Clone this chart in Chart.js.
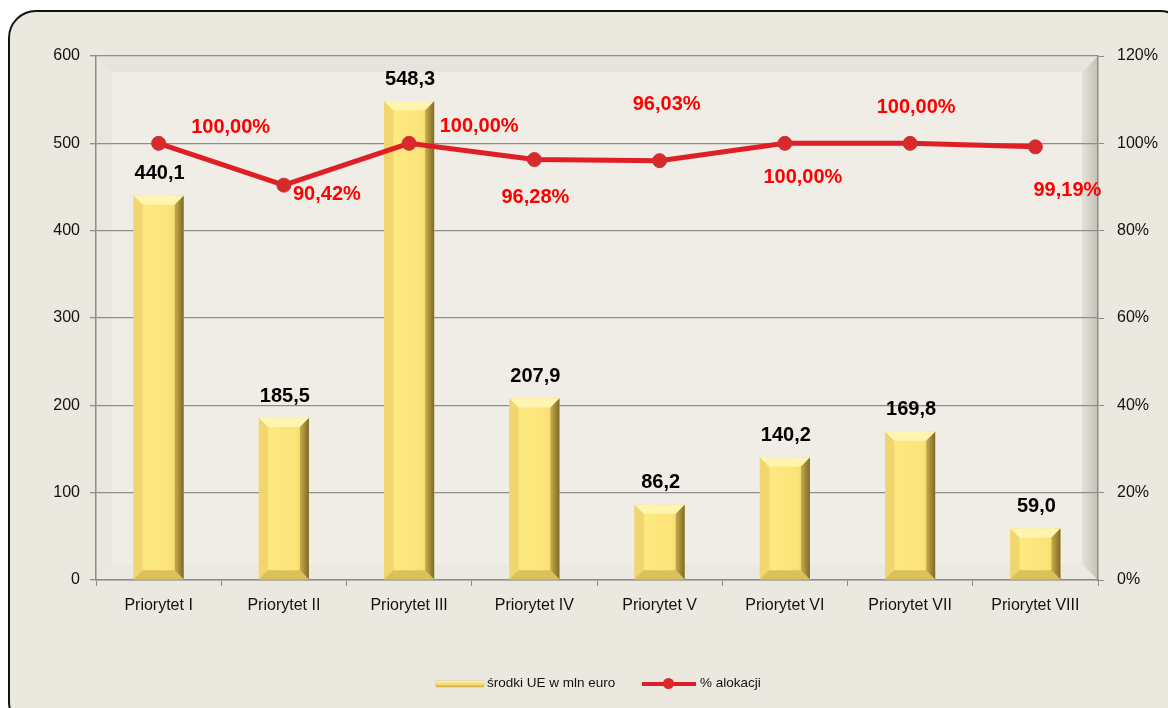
<!DOCTYPE html>
<html>
<head>
<meta charset="utf-8">
<script src="https://cdn.jsdelivr.net/npm/chart.js@4.4.1/dist/chart.umd.min.js"></script>
<style>
  html, body { margin: 0; padding: 0; background: #fff; }
  #wrap { position: relative; width: 1168px; height: 708px; overflow: hidden; }
  #frame {
    position: absolute; left: 8px; top: 10px; width: 1180px; height: 720px;
    background: #ebe8df; border: 2px solid #111; border-radius: 28px; box-sizing: border-box;
  }
  #chart { position: absolute; left: 0; top: 0; }
  .legend { position: absolute; top: 675px; font: 13.5px "Liberation Sans", Arial, sans-serif; color: #111; }
  .sw-bar { position: absolute; top: 6px; width: 48px; height: 6px;
    background: linear-gradient(#fff4a8, #f3d86a 60%, #c9a94a); box-shadow: 0 0 2px #c8b060; }
  .sw-line { position: absolute; top: 7px; width: 54px; height: 4px; background: #de1f26; }
  .sw-dot { position: absolute; top: 3px; left: 21px; width: 11px; height: 11px; border-radius: 50%; background: #d92a2a; }
</style>
</head>
<body>
<div id="wrap">
  <div id="frame"></div>
  <canvas id="chart" width="1168" height="708"></canvas>
  <div class="legend" style="left:436px;"><span class="sw-bar" style="left:0"></span><span style="position:absolute;left:51px;white-space:nowrap;">środki UE w mln euro</span></div>
  <div class="legend" style="left:642px;"><span class="sw-line" style="left:0"></span><span class="sw-dot"></span><span style="position:absolute;left:58px;white-space:nowrap;">% alokacji</span></div>
</div>
<script>
// Data
const categories = ['Priorytet I', 'Priorytet II', 'Priorytet III', 'Priorytet IV', 'Priorytet V', 'Priorytet VI', 'Priorytet VII', 'Priorytet VIII'];
const funds = [440.1, 185.5, 548.3, 207.9, 86.2, 140.2, 169.8, 59.0];
const allocation = [100.00, 90.42, 100.00, 96.28, 96.03, 100.00, 100.00, 99.19];

const fmt = (v, d) => v.toFixed(d).replace('.', ',');

// --- 3D-ish wall behind the plot ---
const wallPlugin = {
  id: 'wall',
  beforeDraw(chart) {
    const { ctx, chartArea: a } = chart;
    const d = 16;
    ctx.save();
    // back panel
    ctx.fillStyle = '#efede6';
    ctx.fillRect(a.left, a.top, a.right - a.left, a.bottom - a.top);
    // left wall
    ctx.fillStyle = '#e9e7df';
    ctx.beginPath();
    ctx.moveTo(a.left, a.top); ctx.lineTo(a.left + d, a.top + d);
    ctx.lineTo(a.left + d, a.bottom - d); ctx.lineTo(a.left, a.bottom); ctx.closePath(); ctx.fill();
    // ceiling
    ctx.fillStyle = '#e6e4dc';
    ctx.beginPath();
    ctx.moveTo(a.left, a.top); ctx.lineTo(a.right, a.top);
    ctx.lineTo(a.right - d, a.top + d); ctx.lineTo(a.left + d, a.top + d); ctx.closePath(); ctx.fill();
    // floor
    ctx.fillStyle = '#ebe9e1';
    ctx.beginPath();
    ctx.moveTo(a.left, a.bottom); ctx.lineTo(a.right, a.bottom);
    ctx.lineTo(a.right - d, a.bottom - d); ctx.lineTo(a.left + d, a.bottom - d); ctx.closePath(); ctx.fill();
    // right wall (shaded)
    const g = ctx.createLinearGradient(a.right - d, 0, a.right, 0);
    g.addColorStop(0, '#e4e1d9');
    g.addColorStop(1, '#c4c1b7');
    ctx.fillStyle = g;
    ctx.beginPath();
    ctx.moveTo(a.right, a.top); ctx.lineTo(a.right - d, a.top + d);
    ctx.lineTo(a.right - d, a.bottom - d); ctx.lineTo(a.right, a.bottom); ctx.closePath(); ctx.fill();
    ctx.restore();
  }
};

// --- bevelled gold bars ---
const bevelPlugin = {
  id: 'bevel',
  afterDatasetDraw(chart, args) {
    if (args.index !== 0) return;
    const { ctx } = chart;
    const meta = chart.getDatasetMeta(0);
    ctx.save();
    meta.data.forEach(bar => {
      const l = bar.x - bar.width / 2, r = bar.x + bar.width / 2;
      const t = bar.y, b = bar.base;
      const e = Math.min(9, (b - t) / 2);
      const body = ctx.createLinearGradient(l, 0, r, 0);
      body.addColorStop(0, '#f3da6c');
      body.addColorStop(0.25, '#fde97f');
      body.addColorStop(0.75, '#fbe379');
      body.addColorStop(1, '#e7cc60');
      ctx.fillStyle = body;
      ctx.fillRect(l, t, r - l, b - t);
      const poly = (pts, fill) => {
        ctx.fillStyle = fill;
        ctx.beginPath();
        ctx.moveTo(pts[0][0], pts[0][1]);
        pts.slice(1).forEach(p => ctx.lineTo(p[0], p[1]));
        ctx.closePath();
        ctx.fill();
      };
      // top
      poly([[l, t], [r, t], [r - e, t + e], [l + e, t + e]], '#fff5b0');
      // left
      poly([[l, t], [l + e, t + e], [l + e, b - e], [l, b]], '#f1d670');
      // bottom
      poly([[l, b], [l + e, b - e], [r - e, b - e], [r, b]], '#dcc05a');
      // right
      const rg = ctx.createLinearGradient(r - e, 0, r, 0);
      rg.addColorStop(0, '#c9ad4c');
      rg.addColorStop(1, '#7d6a2a');
      poly([[r, t], [r, b], [r - e, b - e], [r - e, t + e]], rg);
    });
    // bar value labels
    ctx.fillStyle = '#000';
    ctx.font = 'bold 20px "Liberation Sans", Arial, sans-serif';
    ctx.textAlign = 'center';
    ctx.textBaseline = 'middle';
    meta.data.forEach((bar, i) => {
      ctx.fillText(fmt(funds[i], 1), bar.x + 1, bar.y - 22);
    });
    ctx.restore();
  }
};

// --- line value labels ---
const lineLabelPlugin = {
  id: 'lineLabels',
  afterDatasetsDraw(chart, args, opts) {
    const { ctx } = chart;
    const meta = chart.getDatasetMeta(1);
    ctx.save();
    ctx.fillStyle = '#ff0000';
    ctx.font = 'bold 20px "Liberation Sans", Arial, sans-serif';
    ctx.textAlign = 'center';
    ctx.textBaseline = 'middle';
    meta.data.forEach((pt, i) => {
      const o = opts.offsets[i];
      ctx.fillText(fmt(allocation[i], 2) + '%', pt.x + o[0], pt.y + o[1]);
    });
    ctx.restore();
  }
};

const tickFont = { family: '"Liberation Sans", Arial, sans-serif', size: 16 };

new Chart(document.getElementById('chart'), {
  type: 'bar',
  data: {
    labels: categories,
    datasets: [
      {
        type: 'bar',
        label: 'środki UE w mln euro',
        data: funds,
        yAxisID: 'y',
        backgroundColor: 'rgba(0,0,0,0)',
        barPercentage: 0.4,
        categoryPercentage: 1,
        order: 2
      },
      {
        type: 'line',
        label: '% alokacji',
        data: allocation,
        yAxisID: 'y1',
        borderColor: '#de1f26',
        borderWidth: 5,
        pointRadius: 7,
        pointBackgroundColor: '#d92a2a',
        pointBorderColor: '#c4353c',
        pointBorderWidth: 1,
        tension: 0,
        order: 1
      }
    ]
  },
  options: {
    responsive: false,
    animation: false,
    events: [],
    layout: { padding: { top: 56, left: 0, right: 0, bottom: 0 } },
    plugins: {
      legend: { display: false },
      tooltip: { enabled: false },
      lineLabels: {
        offsets: [[72, -16], [43, 9], [70, -17], [1, 38], [7, -56], [18, 34], [6, -36], [32, 44]]
      }
    },
    scales: {
      x: {
        offset: true,
        grid: { offset: true, drawOnChartArea: false, drawTicks: true, tickLength: 6, color: '#8c8c8c' },
        border: { color: '#8c8c8c', width: 1.5 },
        ticks: { color: '#111', font: tickFont, padding: 10, maxRotation: 0 },
        afterFit(s) { s.height = 128; }
      },
      y: {
        position: 'left',
        min: 0, max: 600,
        ticks: { stepSize: 100, color: '#111', font: tickFont, padding: 10 },
        grid: { color: '#8e8e8e', lineWidth: 1.3, tickLength: 6 },
        border: { color: '#8c8c8c', width: 1.5 },
        afterFit(s) { s.width = 96; }
      },
      y1: {
        position: 'right',
        min: 0, max: 120,
        ticks: { stepSize: 20, color: '#111', font: tickFont, padding: 13, callback: v => v + '%' },
        grid: { drawOnChartArea: false, color: '#8c8c8c', tickLength: 6 },
        border: { color: '#8c8c8c', width: 1.5 },
        afterFit(s) { s.width = 70; }
      }
    }
  },
  plugins: [wallPlugin, bevelPlugin, lineLabelPlugin]
});
</script>
</body>
</html>
